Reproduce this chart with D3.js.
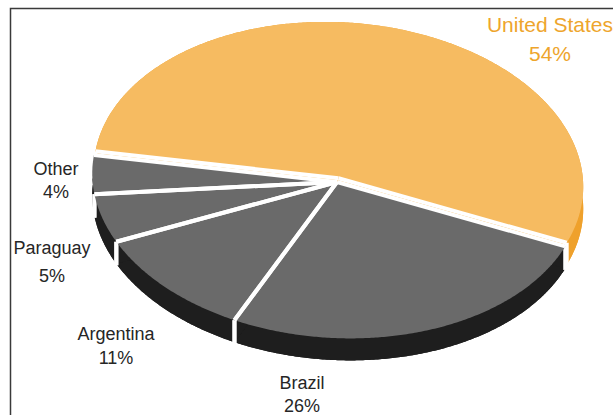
<!DOCTYPE html>
<html>
<head>
<meta charset="utf-8">
<script src="https://cdn.jsdelivr.net/npm/d3@7/dist/d3.min.js"></script>
<style>
  html, body { margin: 0; padding: 0; background: #ffffff; }
  svg { display: block; }
</style>
</head>
<body>
<script>
// Soybean export shares by country (percent)
const countries = ["Brazil", "Argentina", "Paraguay", "Other", "United States"];
const shares = [26, 11, 5, 4, 54];
const shareSuffix = "%";

const W = 613, H = 415;
const svg = d3.select("body").append("svg").attr("width", W).attr("height", H);

// Tilted 3-D pie geometry: an ellipse rotated slightly clockwise, extruded downward
const geo = {
  cx: 337, cy: 182,       // ellipse centre
  a: 245, b: 156,         // semi-axes
  phi: 3.4 * Math.PI / 180, // rotation of the ellipse
  depth: 22,              // thickness of the disc
  start: 19 * Math.PI / 180 // where the first slice (Brazil) begins, clockwise from 3 o'clock
};
const explodeBy = { "United States": 4 };

const style = {
  top:  { "United States": "#f6bb61", rest: "#6a6a6a" },
  side: { "United States": "#efa12c", rest: "#1e1e1e" },
  label:{ "United States": "#eea52c", rest: "#262626" },
  gap: 4
};

const rows = countries.map((c, i) => ({ country: c, share: shares[i] }));
const pie = d3.pie().sort(null).value(d => d.share).startAngle(0).endAngle(2 * Math.PI);
const arcs = pie(rows);

const cphi = Math.cos(geo.phi), sphi = Math.sin(geo.phi);
function local(t) {
  const x = geo.a * Math.cos(t), y = geo.b * Math.sin(t);
  return [x * cphi - y * sphi, x * sphi + y * cphi];
}
function pt(t, off, dy = 0) {
  const p = local(t);
  return [geo.cx + off[0] + p[0], geo.cy + off[1] + p[1] + dy];
}
function arcPts(ta, tb, off, dy = 0) {
  const n = Math.max(2, Math.ceil(Math.abs(tb - ta) / (Math.PI / 360)));
  return d3.range(n + 1).map(i => pt(ta + (tb - ta) * i / n, off, dy));
}
const closed = d3.line().curve(d3.curveLinearClosed);
const open = d3.line();

const slices = arcs.map(a => {
  const t0 = geo.start + a.startAngle, t1 = geo.start + a.endAngle;
  const e = explodeBy[a.data.country] || 0;
  const mid = local((t0 + t1) / 2);
  const len = Math.hypot(mid[0], mid[1]);
  const off = [mid[0] / len * e, mid[1] / len * e];
  const key = a.data.country === "United States" ? "United States" : "rest";
  return { ...a, t0, t1, off, key };
});

const gSides = svg.append("g");
const gSideGaps = svg.append("g");
const gTops = svg.append("g");
const gGaps = svg.append("g");

// back slice (United States) first so the front slices' walls overlap it
const drawOrder = slices.slice().sort((p, q) => (q.key === "United States") - (p.key === "United States"));

drawOrder.forEach(s => {
  const c = [geo.cx + s.off[0], geo.cy + s.off[1]];
  const cd = [c[0], c[1] + geo.depth];
  const fill = style.side[s.key];
  const g = gSides.append("g").attr("fill", fill);
  // bottom face
  g.append("path").attr("d", closed([cd, ...arcPts(s.t0, s.t1, s.off, geo.depth)]));
  // outer wall
  g.append("path").attr("d", closed([...arcPts(s.t0, s.t1, s.off, 0), ...arcPts(s.t1, s.t0, s.off, geo.depth)]));
  // radial walls
  [s.t0, s.t1].forEach(t => {
    const r = pt(t, s.off), rd = pt(t, s.off, geo.depth);
    g.append("path").attr("d", closed([c, r, rd, cd]));
  });
});

// white joints down the walls
slices.forEach(s => {
  [s.t0, s.t1].forEach(t => {
    const r = pt(t, s.off);
    gSideGaps.append("path")
      .attr("d", open([r, [r[0], r[1] + geo.depth + 1.5]]))
      .attr("stroke", "#fff").attr("stroke-width", style.gap).attr("fill", "none");
  });
});

// top faces
slices.forEach(s => {
  const c = [geo.cx + s.off[0], geo.cy + s.off[1]];
  gTops.append("path")
    .attr("d", closed([c, ...arcPts(s.t0, s.t1, s.off)]))
    .attr("fill", style.top[s.key]);
});

// white radial separators
slices.forEach(s => {
  const c = [geo.cx + s.off[0], geo.cy + s.off[1]];
  [s.t0, s.t1].forEach(t => {
    gGaps.append("path")
      .attr("d", open([c, pt(t, s.off)]))
      .attr("stroke", "#fff").attr("stroke-width", style.gap).attr("fill", "none");
  });
});

// frame
svg.append("rect")
  .attr("x", 10.5).attr("y", 8.5).attr("width", W + 20).attr("height", H + 20)
  .attr("fill", "none").attr("stroke", "#3a3a3a").attr("stroke-width", 1.5);

// labels
const labelAt = {
  "United States": { x: 550, y: 32, lead: 29, size: 21 },
  "Other":         { x: 56,  y: 175, lead: 23, size: 18 },
  "Paraguay":      { x: 52,  y: 254, lead: 28, size: 18 },
  "Argentina":     { x: 116, y: 340, lead: 24, size: 18 },
  "Brazil":        { x: 302, y: 389, lead: 23, size: 18 }
};
const gLabels = svg.append("g")
  .attr("font-family", "'Liberation Sans', Arial, sans-serif")
  .attr("text-anchor", "middle");
rows.forEach(r => {
  const L = labelAt[r.country];
  const key = r.country === "United States" ? "United States" : "rest";
  const t = gLabels.append("text")
    .attr("font-size", L.size)
    .attr("fill", style.label[key]);
  t.append("tspan").attr("x", L.x).attr("y", L.y).text(r.country);
  t.append("tspan").attr("x", L.x).attr("y", L.y + L.lead).text(r.share + shareSuffix);
});
</script>
</body>
</html>
